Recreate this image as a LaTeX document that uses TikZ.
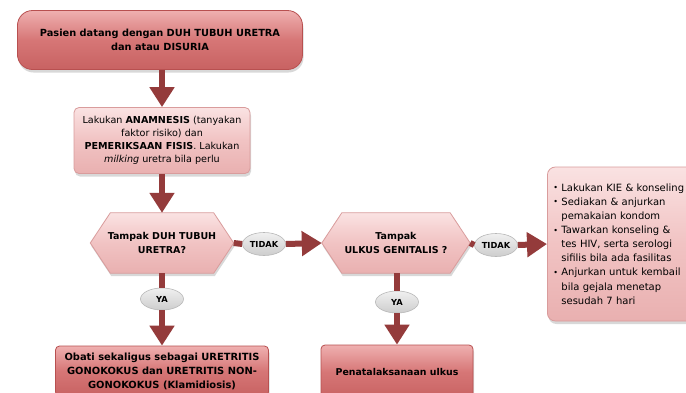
\documentclass[tikz,border=0pt]{standalone}
\usepackage{fontspec}
\setmainfont{DejaVu Sans}
\usetikzlibrary{arrows.meta,shadows,backgrounds,shapes.geometric}
\definecolor{arrowred}{HTML}{943B3B}
\definecolor{darktop}{HTML}{EFB0B0}
\definecolor{darkmid}{HTML}{D67676}
\definecolor{darkbot}{HTML}{C86262}
\definecolor{darkline}{HTML}{B85050}
\definecolor{lighttop}{HTML}{FAE2E2}
\definecolor{lightmid}{HTML}{F1C3C3}
\definecolor{lightbot}{HTML}{E9B0B0}
\definecolor{lightline}{HTML}{D99C9C}
\definecolor{greytop}{HTML}{F0F0F0}
\definecolor{greybot}{HTML}{CDCDCD}
\definecolor{greyline}{HTML}{B8B8B8}
\newcommand\bul{\makebox[8pt][l]{\raisebox{0.5pt}{\fontsize{8}{8}\selectfont\textbullet}}}
\newcommand\ind{\hspace*{8pt}}
\begin{document}
\begin{tikzpicture}[x=1pt,y=-1pt,
  darkbox/.style={draw=darkline, line width=0.8pt, top color=darktop, bottom color=darkbot, middle color=darkmid,
    drop shadow={opacity=0.3, shadow xshift=1pt, shadow yshift=-3pt}},
  lightbox/.style={draw=lightline, line width=0.8pt, top color=lighttop, bottom color=lightbot, middle color=lightmid,
    drop shadow={opacity=0.3, shadow xshift=1pt, shadow yshift=-3pt}},
  hextext/.style={minimum width=#1, minimum height=60pt, inner sep=0pt, align=center,
    font=\bfseries\fontsize{9.5}{14}\selectfont},
  hexfill/.style={draw=lightline, line width=0.8pt, top color=lighttop, bottom color=lightbot, middle color=lightmid,
    drop shadow={opacity=0.3, shadow xshift=1pt, shadow yshift=-3pt}},
  tag/.style={ellipse, draw=greyline, line width=0.6pt, top color=greytop, bottom color=greybot,
    minimum width=43pt, minimum height=23pt, inner sep=0pt, font=\bfseries\fontsize{8.3}{9}\selectfont},
  arrow/.style={draw=arrowred, line width=6pt, -{Triangle[width=24pt,length=20pt]}},
  link/.style={draw=arrowred, line width=6pt}
]
\useasboundingbox (0,0) rectangle (686,392);

\node[darkbox, rounded corners=15pt, minimum width=285pt, minimum height=59pt, align=center,
  font=\bfseries\fontsize{9.8}{14}\selectfont] (start) at (160,40)
  {Pasien datang dengan DUH TUBUH URETRA\\dan atau DISURIA};

\node[lightbox, rounded corners=5pt, minimum width=176pt, minimum height=66pt, inner sep=2pt, align=center,
  font=\fontsize{9.6}{13}\selectfont] (anam) at (162,140.5)
  {Lakukan \textbf{ANAMNESIS} (tanyakan\\faktor risiko) dan\\\textbf{PEMERIKSAAN FISIS}. Lakukan\\\textit{milking} uretra bila perlu};

\node[hextext=143pt] (q1) at (162,243) {Tampak DUH TUBUH\\URETRA?};
\node[hextext=148pt] (q2) at (396,243) {Tampak\\ULKUS GENITALIS ?};
\begin{scope}[on background layer]
  \fill[white] (0,0) rectangle (686,392);
  \path[hexfill] (q1.west) -- ([xshift=20pt]q1.north west) -- ([xshift=-20pt]q1.north east) -- (q1.east)
    -- ([xshift=-20pt]q1.south east) -- ([xshift=20pt]q1.south west) -- cycle;
  \path[hexfill] (q2.west) -- ([xshift=20pt]q2.north west) -- ([xshift=-20pt]q2.north east) -- (q2.east)
    -- ([xshift=-20pt]q2.south east) -- ([xshift=20pt]q2.south west) -- cycle;
\end{scope}

\node[tag] (no1) at (264,244) {TIDAK};
\node[tag] (no2) at (496,245) {TIDAK};
\node[tag, minimum height=22pt] (yes1) at (162,299) {YA};
\node[tag, minimum height=22pt] (yes2) at (397,302) {YA};

\node[lightbox, rounded corners=8pt, anchor=west, text width=141pt, inner xsep=6pt, minimum height=154pt, align=left,
  font=\fontsize{10}{14.1}\selectfont] (advice) at (547,244)
  {\bul Lakukan KIE \& konseling\\
   \bul Sediakan \& anjurkan\\
   \ind pemakaian kondom\\
   \bul Tawarkan konseling \&\\
   \ind tes HIV, serta serologi\\
   \ind sifilis bila ada fasilitas\\
   \bul Anjurkan untuk kembail\\
   \ind bila gejala menetap\\
   \ind sesudah 7 hari};

\node[darkbox, rounded corners=4pt, minimum width=213pt, minimum height=50pt, align=center,
  font=\bfseries\fontsize{9.9}{14}\selectfont] (treat) at (162,371)
  {Obati sekaligus sebagai URETRITIS\\GONOKOKUS dan URETRITIS NON-\\GONOKOKUS (Klamidiosis)};

\node[darkbox, rounded corners=4pt, minimum width=152pt, minimum height=54pt, align=center,
  font=\bfseries\fontsize{9.4}{14}\selectfont] (ulcer) at (397,372)
  {Penatalaksanaan ulkus};

\draw[arrow] (start.south -| anam.north) -- (anam.north);
\draw[arrow] (anam.south) -- (q1.north);
\draw[link] (q1.east) -- (no1.west);
\draw[arrow] (no1.east) -- (q2.west);
\draw[link] (q2.east) -- (no2.west);
\draw[arrow] (no2.east) -- (advice.west);
\draw[link] (q1.south) -- (yes1.north);
\draw[arrow] (yes1.south) -- (treat.north);
\draw[link] (q2.south -| yes2) -- (yes2.north);
\draw[arrow] (yes2.south) -- (ulcer.north);
\end{tikzpicture}
\end{document}
